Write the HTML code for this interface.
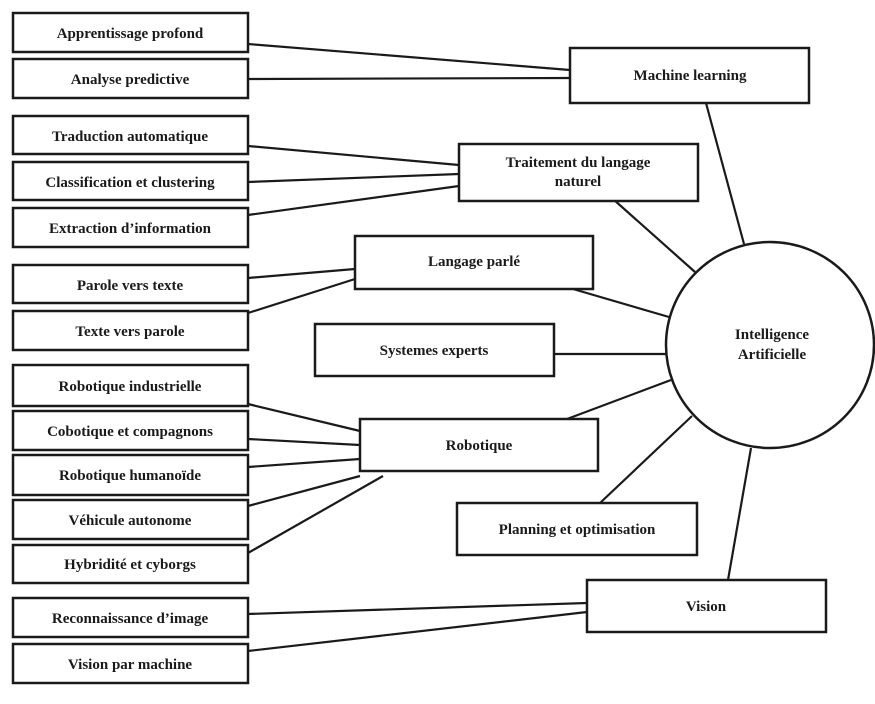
<!DOCTYPE html>
<html><head><meta charset="utf-8"><style>
html,body{margin:0;padding:0;background:#fff;}
svg{display:block;}
text{font-family:"Liberation Serif",serif;font-weight:bold;font-size:15px;fill:#1a1a1a;text-anchor:middle;}
</style></head><body>
<svg width="875" height="704" viewBox="0 0 875 704" xmlns="http://www.w3.org/2000/svg">
<g stroke="#1a1a1a" stroke-width="2.2" fill="none">
<line x1="248" y1="44" x2="570" y2="70"/>
<line x1="248" y1="79" x2="570" y2="78"/>
<line x1="248" y1="146" x2="459" y2="165"/>
<line x1="248" y1="182" x2="459" y2="174"/>
<line x1="248" y1="215" x2="459" y2="186"/>
<line x1="248" y1="278" x2="355" y2="269"/>
<line x1="248" y1="313" x2="355" y2="279"/>
<line x1="248" y1="404" x2="360" y2="431"/>
<line x1="248" y1="439" x2="360" y2="445"/>
<line x1="248" y1="467" x2="360" y2="459"/>
<line x1="248" y1="506" x2="360" y2="476"/>
<line x1="248" y1="553" x2="383" y2="476"/>
<line x1="248" y1="614" x2="587" y2="603"/>
<line x1="248" y1="651" x2="587" y2="612"/>
<line x1="706" y1="103" x2="744" y2="244"/>
<line x1="613" y1="199" x2="695" y2="272"/>
<line x1="573" y1="289" x2="669" y2="317"/>
<line x1="554" y1="354" x2="666" y2="354"/>
<line x1="567" y1="419" x2="671" y2="380"/>
<line x1="600" y1="503" x2="692" y2="416"/>
<line x1="728" y1="580" x2="751" y2="448"/>
</g>
<g stroke="#1a1a1a" stroke-width="2.5" fill="#fff">
<rect x="13" y="13" width="235" height="39"/>
<rect x="13" y="59" width="235" height="39"/>
<rect x="13" y="116" width="235" height="38"/>
<rect x="13" y="162" width="235" height="38"/>
<rect x="13" y="208" width="235" height="39"/>
<rect x="13" y="265" width="235" height="38"/>
<rect x="13" y="311" width="235" height="39"/>
<rect x="13" y="365" width="235" height="41"/>
<rect x="13" y="411" width="235" height="39"/>
<rect x="13" y="455" width="235" height="40"/>
<rect x="13" y="500" width="235" height="39"/>
<rect x="13" y="545" width="235" height="38"/>
<rect x="13" y="598" width="235" height="39"/>
<rect x="13" y="644" width="235" height="39"/>
<rect x="570" y="48" width="239" height="55"/>
<rect x="459" y="144" width="239" height="57"/>
<rect x="355" y="236" width="238" height="53"/>
<rect x="315" y="324" width="239" height="52"/>
<rect x="360" y="419" width="238" height="52"/>
<rect x="457" y="503" width="240" height="52"/>
<rect x="587" y="580" width="239" height="52"/>
<ellipse cx="770" cy="345" rx="104" ry="103"/>
</g>
<text x="130" y="38">Apprentissage profond</text>
<text x="130" y="84">Analyse predictive</text>
<text x="130" y="141">Traduction automatique</text>
<text x="130" y="187">Classification et clustering</text>
<text x="130" y="233">Extraction d’information</text>
<text x="130" y="290">Parole vers texte</text>
<text x="130" y="336">Texte vers parole</text>
<text x="130" y="391">Robotique industrielle</text>
<text x="130" y="436">Cobotique et compagnons</text>
<text x="130" y="480">Robotique humanoïde</text>
<text x="130" y="525">Véhicule autonome</text>
<text x="130" y="569">Hybridité et cyborgs</text>
<text x="130" y="623">Reconnaissance d’image</text>
<text x="130" y="669">Vision par machine</text>
<text x="690" y="80">Machine learning</text>
<text x="578" y="167">Traitement du langage</text>
<text x="578" y="186">naturel</text>
<text x="474" y="266">Langage parlé</text>
<text x="434" y="355">Systemes experts</text>
<text x="479" y="450">Robotique</text>
<text x="577" y="534">Planning et optimisation</text>
<text x="706" y="611">Vision</text>
<text x="772" y="339">Intelligence</text>
<text x="772" y="359">Artificielle</text>
</svg>
</body></html>
